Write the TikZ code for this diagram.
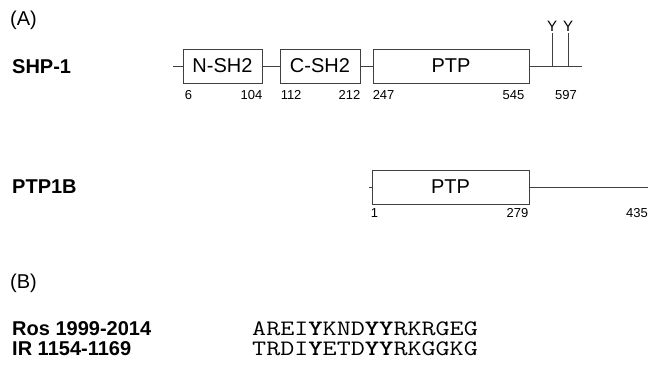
\documentclass[tikz,border=0pt]{standalone}
\usepackage{fontspec}
\setmainfont{Liberation Sans}
\usetikzlibrary{positioning}
\tikzset{
  dom/.style={draw=black!75, line width=0.9pt, minimum height=34pt, inner sep=0pt, font=\fontsize{20}{24}\selectfont},
  bb/.style={draw=black!75, line width=0.9pt},
  num/.style={font=\fontsize{13}{15}\selectfont, inner sep=0pt},
  prot/.style={font=\fontsize{20}{24}\selectfont\bfseries, inner sep=0pt, anchor=west},
  tag/.style={font=\fontsize{20}{24}\selectfont, inner sep=0pt, anchor=west},
  tyr/.style={font=\fontsize{15}{18}\selectfont, inner sep=1.5pt, anchor=south},
  seq/.style={font=\fontsize{22}{26}\ttfamily, inner sep=0pt, anchor=west}
}
\newcommand{\seqline}[1]{\scalebox{1.24}[1]{#1}}
\begin{document}
\begin{tikzpicture}[x=1pt, y=-1pt]
\useasboundingbox (0,0) rectangle (648,365);
% (A) domains
\node[tag] (lblA) at (10,20) {(A)};
\node[prot] (shp) at (12,67) {SHP-1};
\node[dom, minimum width=79pt] (nsh2) at (222.5,66) {N-SH2};
\node[dom, minimum width=80pt] (csh2) at (320,66) {C-SH2};
\node[dom, minimum width=156pt] (ptpA) at (451,66) {PTP};
\coordinate (shpN) at (173,66);
\coordinate (shpC) at (582,66);
\coordinate (pY1) at (552,66);
\coordinate (pY2) at (568,66);
\node[tyr] (y1) at (552,33) {Y};
\node[tyr] (y2) at (568,33) {Y};
\draw[bb] (shpN) -- (nsh2);
\draw[bb] (nsh2) -- (csh2);
\draw[bb] (csh2) -- (ptpA);
\draw[bb] (ptpA) -- (shpC);
\draw[bb] (pY1) -- (y1.south);
\draw[bb] (pY2) -- (y2.south);
\node[num, anchor=north west] (n6) at ([xshift=2pt,yshift=-7pt]nsh2.south west) {6};
\node[num, anchor=north east] (n104) at ([yshift=-7pt]nsh2.south east) {104};
\node[num, anchor=north west] (n112) at ([xshift=1pt,yshift=-7pt]csh2.south west) {112};
\node[num, anchor=north east] (n212) at ([yshift=-7pt]csh2.south east) {212};
\node[num, anchor=north west] (n247) at ([yshift=-7pt]ptpA.south west) {247};
\node[num, anchor=north east] (n545) at ([xshift=-5pt,yshift=-7pt]ptpA.south east) {545};
\node[num, anchor=north] (n597) at (566,90) {597};
% PTP1B
\node[prot] (ptb) at (12,187) {PTP1B};
\node[dom, minimum width=157pt] (ptpB) at (450.5,187) {PTP};
\coordinate (ptbN) at (369,187);
\coordinate (ptbC) at (648,187);
\draw[bb] (ptbN) -- (ptpB);
\draw[bb] (ptpB) -- (ptbC);
\node[num, anchor=north west] (n1) at ([xshift=-1pt,yshift=-4pt]ptpB.south west) {1};
\node[num, anchor=north east] (n279) at ([xshift=-1pt,yshift=-4pt]ptpB.south east) {279};
\node[num, anchor=north east] (n435) at (648,208) {435};
% (B) sequences
\node[tag] (lblB) at (10,283) {(B)};
\node[prot] (ros) at (12,329) {Ros 1999-2014};
\node[prot] (ir) at (12,349) {IR 1154-1169};
\node[seq] (rosSeq) at (252,329) {\seqline{AREI\textbf{Y}KND\textbf{YY}RKRGEG}};
\node[seq] (irSeq) at (252,349) {\seqline{TRDI\textbf{Y}ETD\textbf{YY}RKGGKG}};
\end{tikzpicture}
\end{document}
